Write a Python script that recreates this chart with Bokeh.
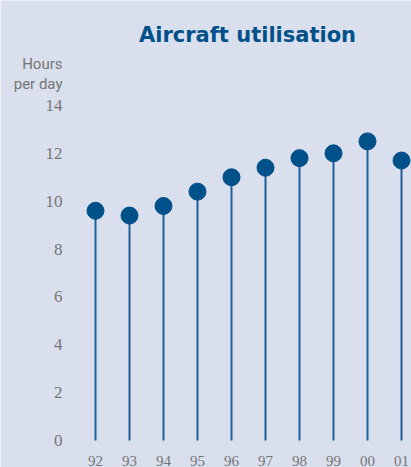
from bokeh.plotting import figure
from bokeh.models import Range1d, Label, ColumnDataSource
from bokeh.embed import file_html
from bokeh.resources import INLINE

# Data
years = ["92", "93", "94", "95", "96", "97", "98", "99", "00", "01"]
hours_per_day = [9.6, 9.4, 9.8, 10.4, 11.0, 11.4, 11.8, 12.0, 12.5, 11.7]
y_ticks = [0, 2, 4, 6, 8, 10, 12, 14]
y_tick_labels = ["0", "2", "4", "6", "8", "10", "12", "14"]
title_text = "Aircraft utilisation"
unit_lines = ["Hours", "per day"]

BG = "#D9DFEC"
DOT = "#00508A"
STEM = "#1F5F99"
GREY = "#767676"

W, H = 411, 467
PX_X = 34.0      # pixels per category
X0 = 95.0        # pixel of first category
PX_Y = 23.93     # pixels per hour
Y0 = 440.0       # pixel of zero

xr = Range1d(-X0 / PX_X, (W - X0) / PX_X)
yr = Range1d(-(H - Y0) / PX_Y, Y0 / PX_Y)

idx = list(range(len(years)))
src = ColumnDataSource(dict(x=idx, y=hours_per_day, y0=[0] * len(idx)))
ysrc = ColumnDataSource(dict(y=y_ticks, t=y_tick_labels, x=[xr.start] * len(y_ticks)))
xsrc = ColumnDataSource(dict(x=idx, t=years, y=[0] * len(idx)))

p = figure(width=W, height=H, output_backend="svg", toolbar_location=None,
           x_range=xr, y_range=yr, x_axis_type=None, y_axis_type=None,
           min_border=0)
p.background_fill_color = BG
p.border_fill_color = BG
p.outline_line_color = None
p.grid.visible = False

p.segment(x0="x", y0="y0", x1="x", y1="y", source=src, line_color=STEM, line_width=2)
p.scatter(x="x", y="y", source=src, size=17, fill_color=DOT, line_color=DOT)

# y tick labels
p.text(x="x", y="y", text="t", source=ysrc, x_offset=62, text_align="right",
       text_baseline="middle", text_font="Roboto", text_font_size="17px", text_color=GREY)
# x tick labels
p.text(x="x", y="y", text="t", source=xsrc, y_offset=20, text_align="center",
       text_baseline="middle", text_font="Roboto", text_font_size="15px", text_color=GREY)

p.add_layout(Label(x=247, x_units="screen", y=(Y0 - 34) / PX_Y, text=title_text,
                   text_font="DejaVu Sans", text_font_style="bold", text_font_size="21px",
                   text_color=DOT, text_align="center", text_baseline="alphabetic"))
for t, py in zip(unit_lines, [63, 83]):
    p.add_layout(Label(x=62, x_units="screen", y=(Y0 - py) / PX_Y, text=t,
                       text_font="Roboto", text_font_size="15px",
                       text_color=GREY, text_align="right", text_baseline="alphabetic"))

open("out.html", "w").write(file_html(p, INLINE))
